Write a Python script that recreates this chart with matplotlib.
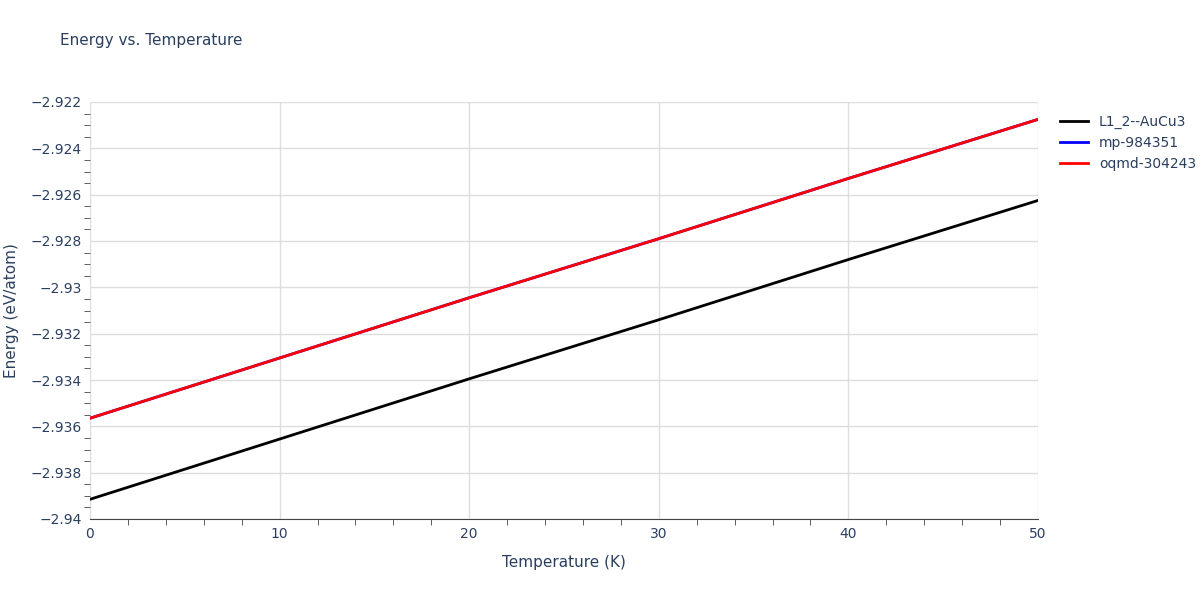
import matplotlib.pyplot as plt
from matplotlib import ticker

temps = [0, 10, 20, 30, 40, 50]
l12_aucu3 = [-2.93915, -2.93655, -2.93395, -2.93140, -2.92880, -2.92625]
mp_984351 = [-2.93565, -2.93305, -2.93045, -2.92790, -2.92530, -2.92275]
oqmd_304243 = [-2.93565, -2.93305, -2.93045, -2.92790, -2.92530, -2.92275]

TEXT = '#2a3f5f'
GRID = '#dddddd'

fig = plt.figure(figsize=(12, 6), dpi=100)
ax = fig.add_axes([0.075, 0.135, 0.79, 0.695])

ax.plot(temps, l12_aucu3, color='black', lw=2, label='L1_2--AuCu3')
ax.plot(temps, mp_984351, color='blue', lw=2, label='mp-984351')
ax.plot(temps, oqmd_304243, color='red', lw=2, label='oqmd-304243')

ax.set_xlim(0, 50)
ax.set_ylim(-2.94, -2.922)
ax.xaxis.set_major_locator(ticker.MultipleLocator(10))
ax.xaxis.set_minor_locator(ticker.MultipleLocator(2))
ax.yaxis.set_major_locator(ticker.MultipleLocator(0.002))
ax.yaxis.set_minor_locator(ticker.MultipleLocator(0.0005))
ax.yaxis.set_major_formatter(ticker.FuncFormatter(
    lambda v, p: ('%g' % round(v, 4)).replace('-', '\u2212')))
ax.grid(True, which='major', color=GRID, lw=1)
ax.tick_params(which='major', length=0, colors=TEXT, labelsize=10, pad=6)
ax.tick_params(which='minor', length=4, color='#444444', direction='out')
for s in ['top', 'right']:
    ax.spines[s].set_visible(False)
ax.spines['left'].set_visible(False)
ax.spines['bottom'].set_color('#444444')

ax.set_xlabel('Temperature (K)', color=TEXT, fontsize=11, labelpad=10)
ax.set_ylabel('Energy (eV/atom)', color=TEXT, fontsize=11, labelpad=8)
fig.text(0.05, 0.925, 'Energy vs. Temperature', color=TEXT, fontsize=11)

leg = ax.legend(loc='upper left', bbox_to_anchor=(1.01, 1.0), frameon=False,
                fontsize=10, handlelength=2, labelspacing=0.5)
for t in leg.get_texts():
    t.set_color(TEXT)

fig.savefig('out.png', dpi=100)
